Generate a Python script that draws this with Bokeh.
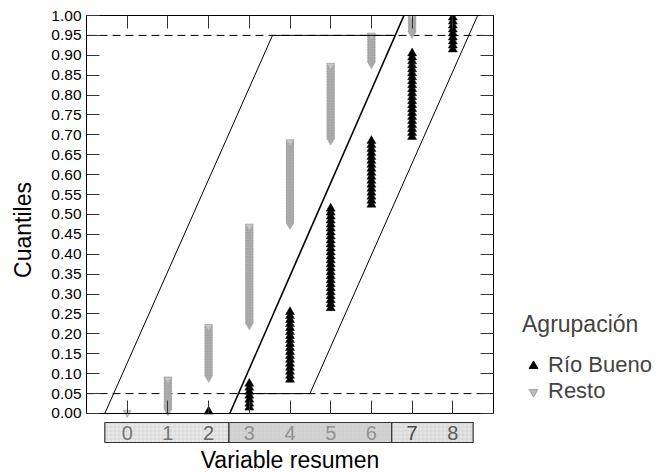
from bokeh.plotting import figure
from bokeh.models import (Range1d, FixedTicker, NumeralTickFormatter, LinearAxis,
                          Legend, LegendItem, CustomJSTickFormatter, Title)
from bokeh.layouts import row
from bokeh.embed import file_html
from bokeh.resources import INLINE
from bokeh.core.properties import value

# ---------------- data ----------------
categories = [0, 1, 2, 3, 4, 5, 6, 7, 8]
strip_labels = ["0", "1", "2", "3", "4", "5", "6", "7", "8"]
# number of observations at each value of the summary variable
rio_bueno_counts = [0, 0, 1, 7, 18, 26, 17, 22, 9]
resto_counts = [1, 21, 33, 63, 53, 48, 19, 12, 0]

quantile_ticks = [0.00, 0.05, 0.10, 0.15, 0.20, 0.25, 0.30, 0.35, 0.40, 0.45, 0.50,
                  0.55, 0.60, 0.65, 0.70, 0.75, 0.80, 0.85, 0.90, 0.95, 1.00]
limit_levels = [0.05, 0.95]

# band (parallelogram) edges
band_a_x = [-0.55, 3.57, 6.586]
band_a_y = [0.0, 0.95, 0.95]
band_b_x = [2.52, 6.80]
band_b_y = [0.0, 1.0]
band_c_x = [2.734, 4.49, 8.61]
band_c_y = [0.05, 0.05, 1.0]

# category strip under the axis
strip_left = [-0.55, 2.5, 6.5]
strip_right = [2.5, 6.5, 8.5]
strip_fill = ["#e8e8e8", "#d3d3d3", "#e4e4e4"]
strip_label_colors = ["#777777", "#777777", "#666666", "#929292", "#929292",
                      "#929292", "#929292", "#4a4a4a", "#5a5a5a"]

FONT = "Liberation Sans"


def ecdf_points(counts):
    n = sum(counts)
    xs, qs = [], []
    i = 0
    for c, k in zip(categories, counts):
        for _ in range(k):
            xs.append(c)
            qs.append((i + 0.5) / n)
            i += 1
    return xs, qs


rio_x, rio_q = ecdf_points(rio_bueno_counts)
resto_x, resto_q = ecdf_points(resto_counts)

blank = CustomJSTickFormatter(code="return ''")

# ---------------- main figure (plot + category strip) ----------------
p = figure(frame_width=407, frame_height=429,
           min_border_left=86, min_border_right=10,
           min_border_top=15, min_border_bottom=28,
           x_range=Range1d(-1, 9), y_range=Range1d(-0.0779, 1),
           output_backend="svg", toolbar_location=None)
p.extra_y_ranges = {"strip": Range1d(-0.1, 21.35)}
p.xgrid.visible = False
p.ygrid.visible = False
p.outline_line_color = None
p.background_fill_color = "white"
p.border_fill_color = "white"

ax = p.xaxis[0]
ax.fixed_location = 0
ax.ticker = FixedTicker(ticks=categories)
ax.formatter = blank
ax.major_tick_in = 13
ax.major_tick_out = 0
ax.minor_tick_line_color = None
ax.major_label_text_font_size = "1px"
ax.major_label_standoff = 0
ax.axis_line_color = "black"
ax.major_tick_line_color = "#333333"

ay = p.yaxis[0]
ay.bounds = (0, 1)
ay.ticker = FixedTicker(ticks=quantile_ticks)
ay.formatter = NumeralTickFormatter(format="0.00")
ay.major_tick_in = 13
ay.major_tick_out = 0
ay.minor_tick_line_color = None
ay.axis_line_color = "black"
ay.major_tick_line_color = "#333333"
ay.major_label_text_font = FONT
ay.major_label_text_font_size = "15.5px"
ay.major_label_text_color = "black"
ay.major_label_standoff = 5
ay.axis_label = "Cuantiles"
ay.axis_label_text_font = FONT
ay.axis_label_text_font_size = "23px"
ay.axis_label_text_font_style = "normal"
ay.axis_label_text_color = "black"
ay.axis_label_standoff = 12

ra = LinearAxis(ticker=FixedTicker(ticks=quantile_ticks), formatter=blank,
                bounds=(0, 1),
                major_tick_in=13, major_tick_out=0, minor_tick_line_color=None,
                major_label_text_font_size="1px", major_label_standoff=0,
                axis_line_color="black", major_tick_line_color="#333333")
p.add_layout(ra, "right")
ta = LinearAxis(ticker=FixedTicker(ticks=categories), formatter=blank,
                major_tick_in=13, major_tick_out=0, minor_tick_line_color=None,
                major_label_text_font_size="1px", major_label_standoff=0,
                axis_line_color="black", major_tick_line_color="#333333")
p.add_layout(ta, "above")

p.segment(x0=p.x_range.start, x1=p.x_range.end, y0=limit_levels, y1=limit_levels,
          line_color="black", line_dash="8 5", line_width=1)

r_resto = p.scatter(resto_x, resto_q, marker="inverted_triangle", size=8,
                    fill_color="#c6c6c6", line_color="#929292", line_width=0.6)
r_rio = p.scatter(rio_x, rio_q, marker="triangle", size=9,
                  fill_color="black", line_color="black", line_width=0.5)

p.line(band_a_x, band_a_y, line_color="black", line_width=1)
p.line(band_b_x, band_b_y, line_color="black", line_width=1.6)
p.line(band_c_x, band_c_y, line_color="black", line_width=1)

# category strip
p.quad(left=strip_left, right=strip_right, bottom=0, top=1, y_range_name="strip",
       fill_color=strip_fill, line_color="#333333", line_width=1.2,
       hatch_pattern="+", hatch_color="#cacaca", hatch_scale=4, hatch_weight=0.5)
p.text(x=categories, y=[0.5] * len(categories), text=strip_labels,
       y_range_name="strip",
       text_align="center", text_baseline="middle",
       text_font=value(FONT), text_font_size="20px",
       text_color=strip_label_colors)

xt = Title(text="Variable resumen", align="center", text_font=FONT,
           text_font_size="23px", text_font_style="normal", text_color="black",
           standoff=0, offset=0)
p.add_layout(xt, "below")

# ---------------- legend panel ----------------
lf = figure(width=157, height=472, min_border=0,
            x_range=Range1d(0, 1), y_range=Range1d(0, 1),
            x_axis_location=None, y_axis_location=None,
            output_backend="svg", toolbar_location=None)
lf.xgrid.visible = False
lf.ygrid.visible = False
lf.outline_line_color = None
lf.background_fill_color = "white"
lf.border_fill_color = "white"
# legend proxies: one point each, placed outside the visible range of this panel
g_rio = lf.scatter(x=[-5], y=[-5], marker="triangle", size=10,
                   fill_color="black", line_color="black")
g_resto = lf.scatter(x=[-5], y=[-5], marker="inverted_triangle", size=10,
                     fill_color="#bdbdbd", line_color="#8a8a8a", line_width=0.7)

legend = Legend(items=[LegendItem(label="Río Bueno", renderers=[g_rio]),
                       LegendItem(label="Resto", renderers=[g_resto])],
                title="Agrupación", location=(19, 40))
legend.title_text_font = FONT
legend.title_text_font_size = "23px"
legend.title_text_font_style = "normal"
legend.label_text_font = FONT
legend.label_text_font_size = "22px"
legend.border_line_color = None
legend.background_fill_alpha = 0
legend.padding = 0
legend.margin = 0
legend.spacing = -4
legend.glyph_width = 22
legend.glyph_height = 23
legend.label_standoff = 4
legend.label_height = 23
legend.title_standoff = 14
lf.add_layout(legend)

layout = row(p, lf, spacing=0)
open("out.html", "w").write(file_html(layout, INLINE))
